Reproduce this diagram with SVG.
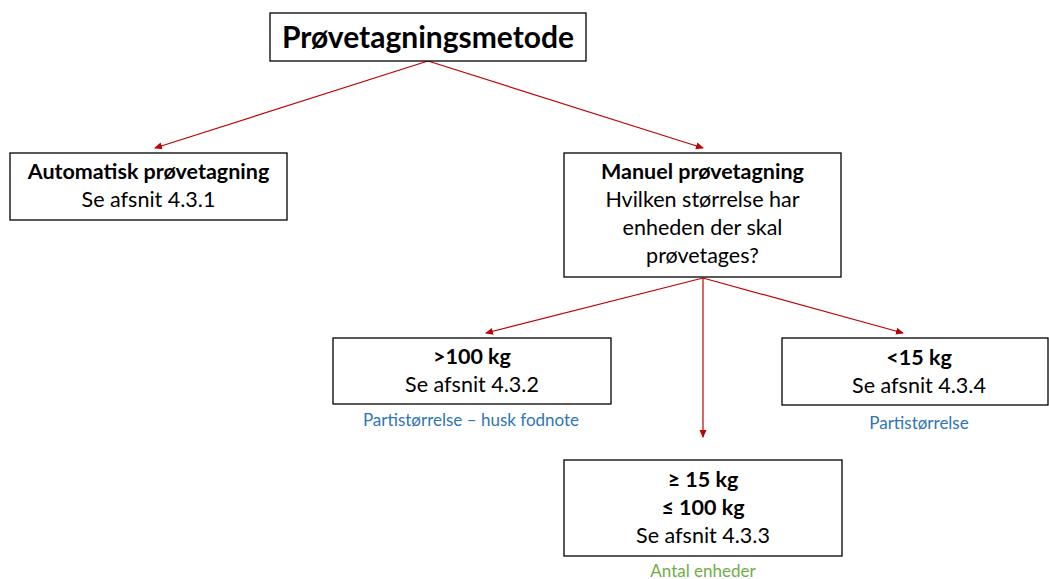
<svg xmlns="http://www.w3.org/2000/svg" width="1049" height="579" viewBox="0 0 1049 579">
<defs>
<marker id="ah" markerWidth="8" markerHeight="8" refX="7" refY="4" orient="auto" markerUnits="userSpaceOnUse">
<path d="M0,0.5 L8,4 L0,7.5 Z" fill="#c00000"/>
</marker>
<style>
.box{fill:#fff;stroke:#000;stroke-width:1.3}
.t{font-family:Lato,"Noto Sans",sans-serif;font-size:21.5px;fill:#000;text-anchor:middle}
.b{font-weight:bold}
.h{font-size:30px}
.c{stroke:#c00000;stroke-width:1.2;fill:none;marker-end:url(#ah)}
.blue{font-family:Lato,"Noto Sans",sans-serif;font-size:17px;fill:#2e75b6;text-anchor:middle}
.green{font-family:Lato,"Noto Sans",sans-serif;font-size:17px;fill:#70ad47;text-anchor:middle}
</style>
</defs>
<rect width="1049" height="579" fill="#fff"/>
<g id="connectors">
<line class="c" x1="428" y1="61" x2="155" y2="148"/>
<line class="c" x1="428" y1="61" x2="703" y2="148"/>
<line class="c" x1="703" y1="278" x2="486" y2="333"/>
<line class="c" x1="703" y1="278" x2="703" y2="437"/>
<line class="c" x1="703" y1="278" x2="903" y2="333"/>
</g>
<g id="root">
<rect class="box" x="270" y="13" width="316" height="48"/>
<text class="t b h" x="428" y="48">Prøvetagningsmetode</text>
</g>
<g id="auto">
<rect class="box" x="10" y="153" width="277" height="67"/>
<text class="t b" x="148.5" y="179">Automatisk prøvetagning</text>
<text class="t" x="148.5" y="207">Se afsnit 4.3.1</text>
</g>
<g id="manuel">
<rect class="box" x="564" y="153" width="277" height="124"/>
<text class="t b" x="702.5" y="179">Manuel prøvetagning</text>
<text class="t" x="702.5" y="207">Hvilken størrelse har</text>
<text class="t" x="702.5" y="235">enheden der skal</text>
<text class="t" x="702.5" y="263">prøvetages?</text>
</g>
<g id="over100">
<rect class="box" x="333" y="338" width="278" height="66"/>
<text class="t b" x="472" y="364">&gt;100 kg</text>
<text class="t" x="472" y="392">Se afsnit 4.3.2</text>
<text class="blue" x="471" y="426">Partistørrelse – husk fodnote</text>
</g>
<g id="under15">
<rect class="box" x="782" y="338" width="266" height="67"/>
<text class="t b" x="919" y="365">&lt;15 kg</text>
<text class="t" x="919" y="393">Se afsnit 4.3.4</text>
<text class="blue" x="919" y="429">Partistørrelse</text>
</g>
<g id="mid">
<rect class="box" x="564" y="460" width="278" height="96"/>
<text class="t b" x="703" y="487">≥ 15 kg</text>
<text class="t b" x="703" y="515">≤ 100 kg</text>
<text class="t" x="703" y="543">Se afsnit 4.3.3</text>
<text class="green" x="703" y="577">Antal enheder</text>
</g>
</svg>
